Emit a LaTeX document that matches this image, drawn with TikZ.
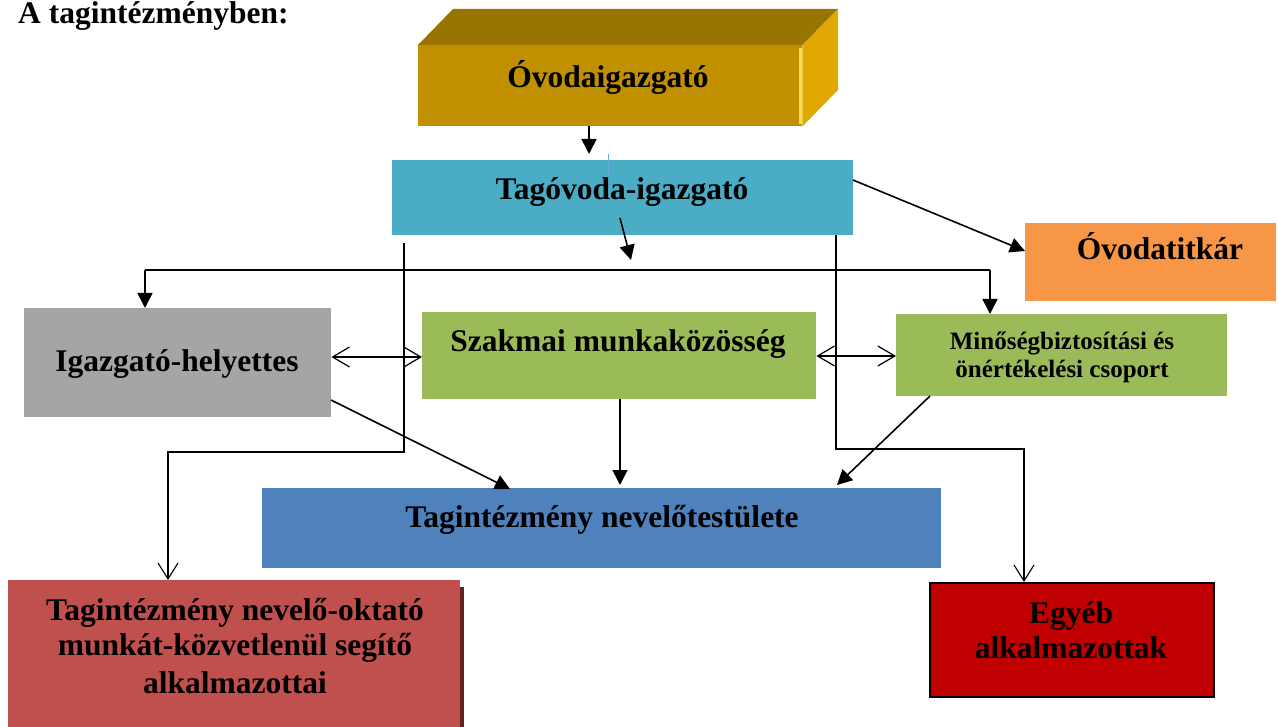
\documentclass[tikz,border=0pt]{standalone}
\usepackage{fontspec}
\setmainfont{Liberation Serif}
\usetikzlibrary{arrows.meta}
\definecolor{cFront}{HTML}{C09000}
\definecolor{cTop}{HTML}{9A7400}
\definecolor{cSide}{HTML}{E0A800}
\definecolor{cHi}{HTML}{F3E04A}
\definecolor{cTago}{HTML}{4BACC6}
\definecolor{cTitkar}{HTML}{F79646}
\definecolor{cGray}{HTML}{A5A5A5}
\definecolor{cGreen}{HTML}{9BBB59}
\definecolor{cBlue}{HTML}{4F81BD}
\definecolor{cRed}{HTML}{C0504D}
\definecolor{cShadow}{HTML}{632523}
\definecolor{cDark}{HTML}{C00000}
\definecolor{cArt}{HTML}{6FA8DC}
\begin{document}
\begin{tikzpicture}[x=1pt,y=-1pt,
  box/.style={rectangle, inner sep=0pt, anchor=north west, draw=none},
  lbl/.style={anchor=base, inner sep=0pt, font=\fontsize{31.5}{36}\selectfont\bfseries},
  slbl/.style={anchor=base, inner sep=0pt, font=\fontsize{25}{28}\selectfont\bfseries},
  ln/.style={line width=1.6pt},
  fa/.style={ln, -{Triangle[length=15pt,width=15pt]}},
  oa/.style={ln, -{Straight Barb[length=16pt,width=20pt,line width=1.1pt]}},
  da/.style={line width=1.2pt, {Straight Barb[length=17pt,width=20pt]}-{Straight Barb[length=17pt,width=20pt]}}]
\useasboundingbox (0,0) rectangle (1278,727);

% title
\node[anchor=base west, inner sep=0pt, font=\fontsize{31.5}{36}\selectfont\bfseries] (title) at (18,23.5) {A tagintézményben:};

% 3D box
\node[box, fill=cFront, minimum width=384pt, minimum height=81pt] (ovi) at (418,45) {};
\coordinate (oviBL) at (453,9);
\coordinate (oviBR) at (838,9);
\coordinate (oviBB) at (838,90);
\fill[cTop] (ovi.north west) -- (oviBL) -- (oviBR) -- (ovi.north east) -- cycle;
\fill[cSide] (ovi.north east) -- (oviBR) -- (oviBB) -- (ovi.south east) -- cycle;
\fill[cHi] (799,48) rectangle (802,124);
\node[lbl] (oviT) at (608,88) {Óvodaigazgató};

% boxes
\node[box, fill=cTago, minimum width=461pt, minimum height=75pt] (tago) at (392,160) {};
\node[lbl] (tagoT) at (622,200) {Tagóvoda-igazgató};
\draw[cArt, line width=0.8pt] (608,154) -- (608,176);

\node[box, fill=cTitkar, minimum width=251pt, minimum height=78pt] (tit) at (1025,223) {};
\node[lbl] (titT) at (1160,260) {Óvodatitkár};

\node[box, fill=cGray, minimum width=307pt, minimum height=109pt] (ih) at (24,308) {};
\node[lbl] (ihT) at (177,372) {Igazgató-helyettes};

\node[box, fill=cGreen, minimum width=394pt, minimum height=87pt] (szak) at (422,312) {};
\node[lbl] (szakT) at (618,352) {Szakmai munkaközösség};

\node[box, fill=cGreen, minimum width=331pt, minimum height=82pt] (mb) at (896,314) {};
\node[slbl] (mbT1) at (1062,350) {Minőségbiztosítási és};
\node[slbl] (mbT2) at (1062,378) {önértékelési csoport};

\node[box, fill=cBlue, minimum width=679pt, minimum height=80pt] (nt) at (262,488) {};
\node[lbl] (ntT) at (602,527) {Tagintézmény nevelőtestülete};

\fill[cShadow] (12,587) rectangle (464,727);
\node[box, fill=cRed, minimum width=452pt, minimum height=147pt] (neo) at (8,580) {};
\node[lbl] (neoT1) at (235,620) {Tagintézmény nevelő-oktató};
\node[lbl] (neoT2) at (235,655) {munkát-közvetlenül segítő};
\node[lbl] (neoT3) at (235,693) {alkalmazottai};

\node[box, fill=cDark, draw=black, line width=1.5pt, minimum width=284pt, minimum height=114pt] (egy) at (929,582) {};
\node[lbl] (egyT1) at (1071,623) {Egyéb};
\node[lbl] (egyT2) at (1071,658) {alkalmazottak};

% helper coordinates
\coordinate (c589) at (589,0);
\coordinate (a1e) at (589,154);
\coordinate (a2s) at (620,218);
\coordinate (a2e) at (631,260);
\coordinate (hL) at (145,270);
\coordinate (hR) at (990,270);
\coordinate (a3s) at (853,180);
\coordinate (a3e) at (1025,251);
\coordinate (v1t) at (404,243);
\coordinate (v1b) at (404,452);
\coordinate (c168) at (168,0);
\coordinate (c836) at (836,0);
\coordinate (v2b) at (836,449);
\coordinate (c1024) at (1024,0);
\coordinate (y357) at (0,357);
\coordinate (y356) at (0,356);
\coordinate (b1s) at (331,400);
\coordinate (b1e) at (510,489);
\coordinate (c620) at (620,0);
\coordinate (b2e) at (620,485);
\coordinate (b3s) at (930,396);
\coordinate (b3e) at (837,485);

% connectors
\draw[fa] (ovi.south -| c589) -- (a1e);
\draw[fa] (a2s) -- (a2e);
\draw[ln] (hL) -- (hR);
\draw[fa] (hL) -- (ih.north -| hL);
\draw[fa] (hR) -- (mb.north -| hR);
\draw[fa] (a3s) -- (a3e);
\draw[oa] (v1t) -- (v1b) -- (v1b -| c168) -- (neo.north -| c168);
\draw[oa] (tago.south -| c836) -- (v2b) -- (v2b -| c1024) -- (egy.north -| c1024);
\draw[da] (ih.east |- y357) -- (szak.west |- y357);
\draw[da] (szak.east |- y356) -- (mb.west |- y356);
\draw[fa] (b1s) -- (b1e);
\draw[fa] (szak.south -| c620) -- (b2e);
\draw[fa] (b3s) -- (b3e);
\end{tikzpicture}
\end{document}
